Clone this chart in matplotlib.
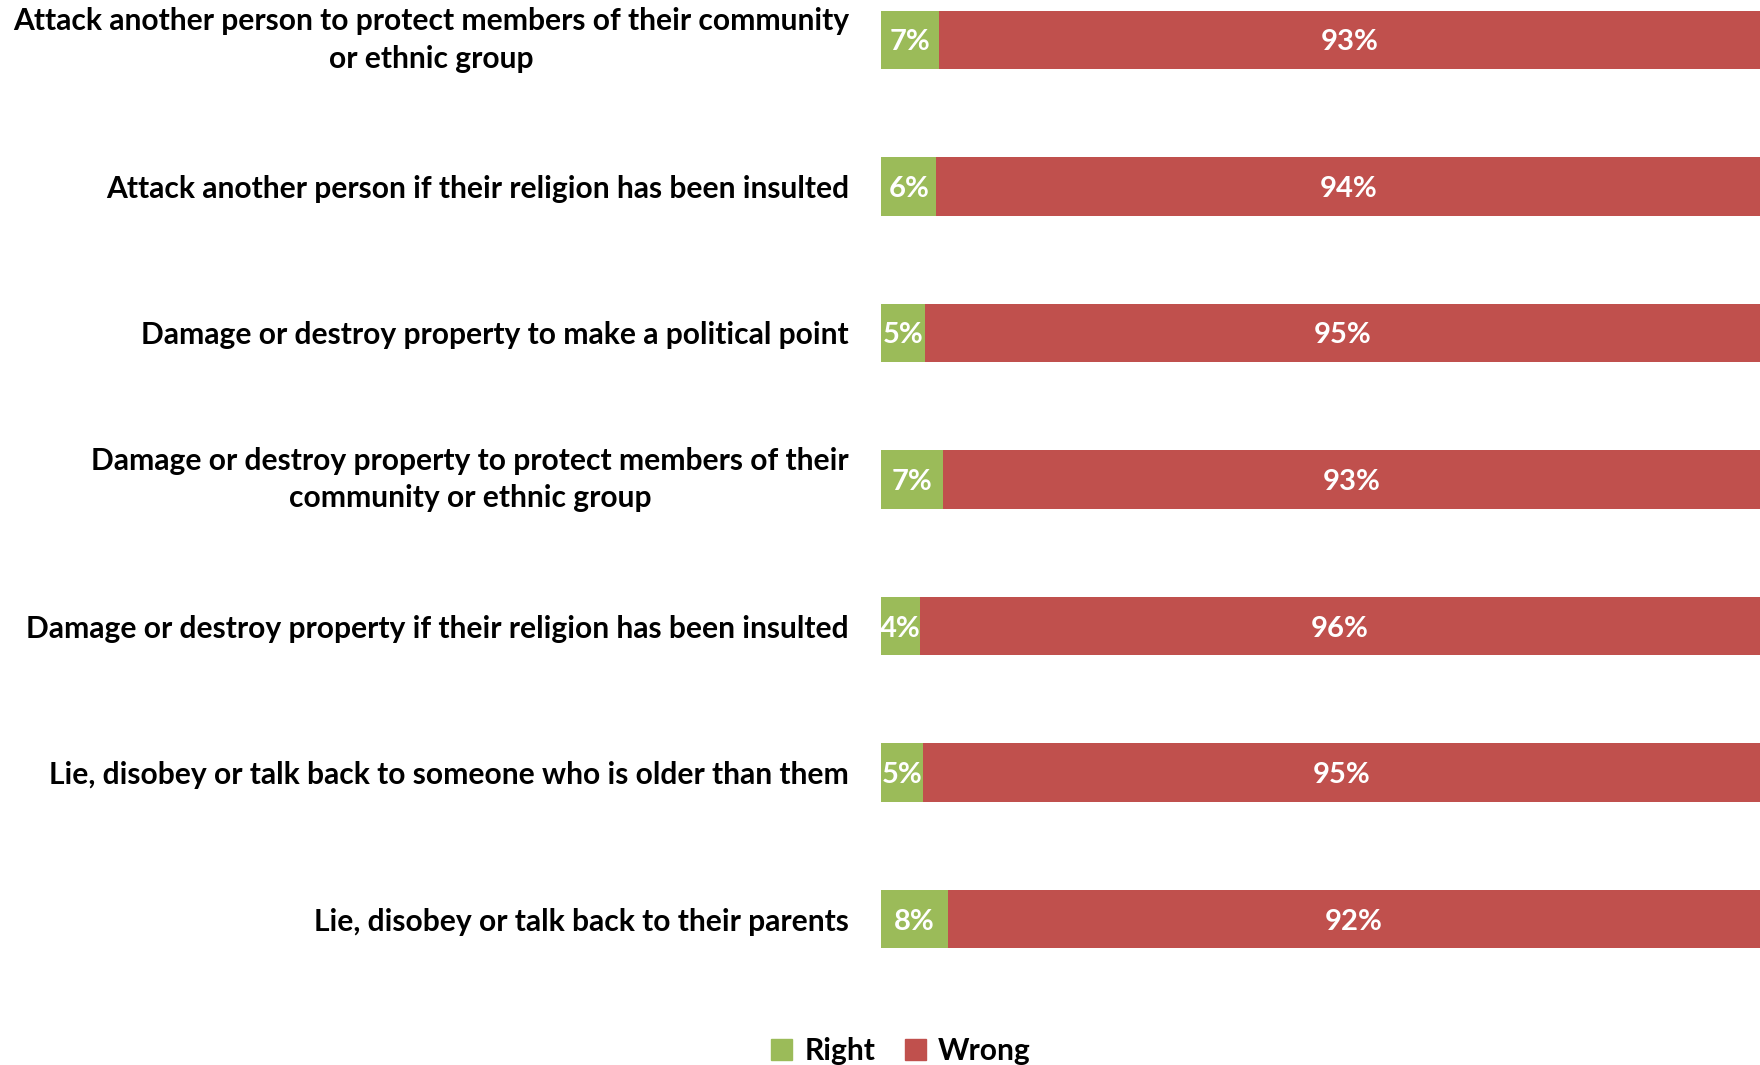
import matplotlib
matplotlib.use("Agg")
import matplotlib.pyplot as plt
from matplotlib.patches import Patch

categories = [
    "Attack another person to protect members of their community\nor ethnic group",
    "Attack another person if their religion has been insulted",
    "Damage or destroy property to make a political point",
    "Damage or destroy property to protect members of their\ncommunity or ethnic group",
    "Damage or destroy property if their religion has been insulted",
    "Lie, disobey or talk back to someone who is older than them",
    "Lie, disobey or talk back to their parents",
]
right = [6.6, 6.3, 5.0, 7.1, 4.4, 4.8, 7.6]
wrong = [93.4, 93.7, 95.0, 92.9, 95.6, 95.2, 92.4]

green = "#9BBB59"
red = "#C0504D"

plt.rcParams["font.family"] = ["Lato", "DejaVu Sans"]
plt.rcParams["font.weight"] = "bold"

fig = plt.figure(figsize=(17.6, 10.65), dpi=100)
ax = fig.add_axes([881 / 1760, 0.0683, 1 - 881 / 1760, 1 - 0.0683])

y = list(range(len(categories)))
ax.barh(y, right, height=0.4, color=green)
ax.barh(y, wrong, left=right, height=0.4, color=red)

for i in y:
    ax.text(right[i] / 2, i, f"{right[i]:.0f}%", ha="center", va="center_baseline",
            color="white", fontsize=21, fontweight="bold")
    ax.text(right[i] + wrong[i] / 2, i, f"{wrong[i]:.0f}%", ha="center",
            va="center_baseline", color="white", fontsize=21, fontweight="bold")

ax.set_xlim(0, 100)
ax.set_ylim(6.5, -0.273)
ax.set_yticks(y)
ax.set_yticklabels(categories, fontsize=21.6, fontweight="bold")
for t in ax.get_yticklabels():
    t.set_multialignment("center")
    t.set_linespacing(1.4)
    if "\n" in t.get_text():
        t.set_verticalalignment("center")
ax.tick_params(axis="y", length=0, pad=23)
ax.set_xticks([])
for s in ax.spines.values():
    s.set_visible(False)

handles = [Patch(color=green, label="Right"), Patch(color=red, label="Wrong")]
fig.legend(handles=handles, loc="center", bbox_to_anchor=(0.512, 0.013), ncol=2,
           frameon=False, fontsize=21.6, handlelength=0.7, handleheight=0.7,
           handletextpad=0.4, columnspacing=1.0)

fig.savefig("out.png", dpi=100)
